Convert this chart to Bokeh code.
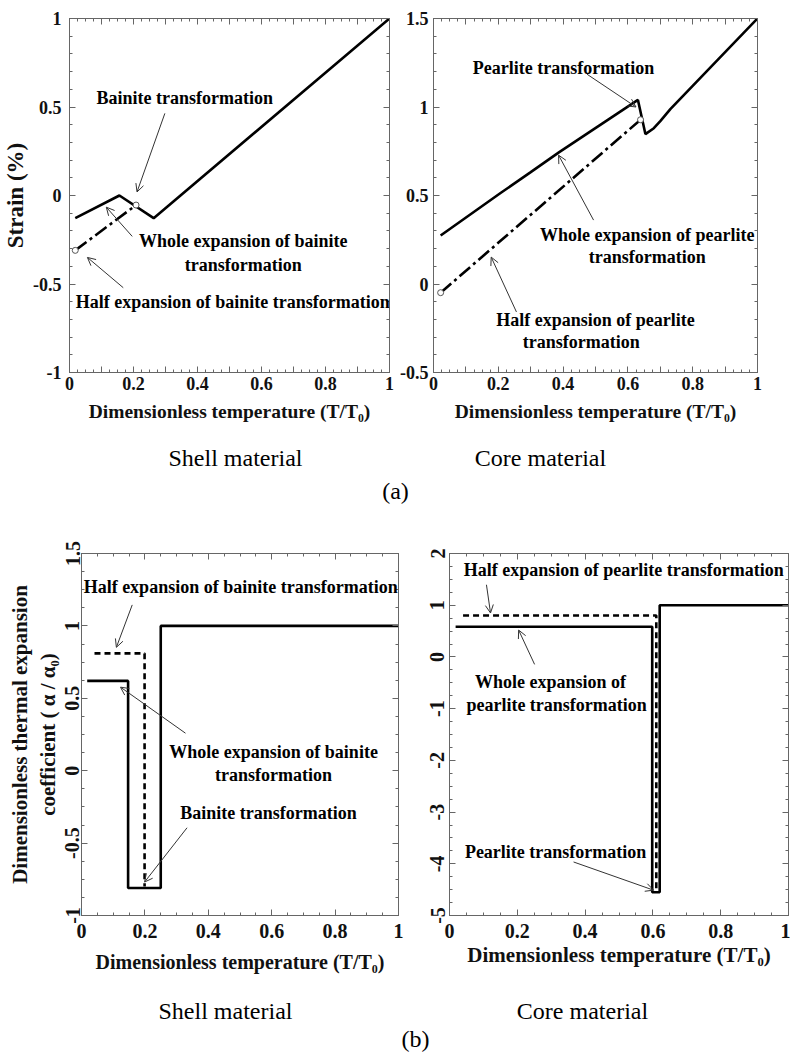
import math
from bokeh.plotting import figure
from bokeh.models import Range1d, LinearAxis, FixedTicker, Label, Arrow, OpenHead
from bokeh.layouts import column, row
from bokeh.embed import file_html
from bokeh.resources import INLINE

# ---------------- data ----------------
# (a) strain vs dimensionless temperature
shell_T_whole = [0.018, 0.156, 0.263, 1.0]
shell_strain_whole = [-0.128, 0.0, -0.128, 1.0]
shell_T_half = [0.018, 0.208]
shell_strain_half = [-0.31, -0.054]

core_T_whole = [0.022, 0.207, 0.299, 0.387, 0.631, 0.654, 0.68, 0.70, 0.731, 1.0]
core_strain_whole = [0.274, 0.514, 0.631, 0.744, 1.04, 0.847, 0.88, 0.92, 0.988, 1.5]
core_T_half = [0.022, 0.639]
core_strain_half = [-0.049, 0.928]

# (b) dimensionless thermal expansion coefficient
shell_alpha_T_whole = [0.018, 0.147, 0.147, 0.25, 0.25, 1.0]
shell_alpha_whole = [0.62, 0.62, -0.81, -0.81, 1.0, 1.0]
shell_alpha_T_half = [0.041, 0.199, 0.199]
shell_alpha_half = [0.81, 0.81, -0.8]

core_alpha_T_whole = [0.018, 0.598, 0.598, 0.62, 0.62, 1.0]
core_alpha_whole = [0.585, 0.585, -4.55, -4.55, 1.0, 1.0]
core_alpha_T_half = [0.04, 0.61, 0.61]
core_alpha_half = [0.8, 0.8, -4.5]

# tick labels
x_ticks_a = [0, 0.1, 0.2, 0.3, 0.4, 0.5, 0.6, 0.7, 0.8, 0.9, 1.0]
x_labels_a = ["0", "", "0.2", "", "0.4", "", "0.6", "", "0.8", "", "1"]
x_ticks_b = [0, 0.2, 0.4, 0.6, 0.8, 1.0]
x_labels_b = ["0", "0.2", "0.4", "0.6", "0.8", "1"]
y_ticks_shell_strain = [-1, -0.5, 0, 0.5, 1]
y_labels_shell_strain = ["-1", "-0.5", "0", "0.5", "1"]
y_ticks_core_strain = [-0.5, 0, 0.5, 1, 1.5]
y_labels_core_strain = ["-0.5", "0", "0.5", "1", "1.5"]
y_ticks_shell_alpha = [-1, -0.5, 0, 0.5, 1, 1.5]
y_labels_shell_alpha = ["-1", "-0.5", "0", "0.5", "1", "1.5"]
y_ticks_core_alpha = [-5, -4, -3, -2, -1, 0, 1, 2]
y_labels_core_alpha = ["-5", "-4", "-3", "-2", "-1", "0", "1", "2"]

X_TITLE = "Dimensionless temperature (T/T\u2080)"

SERIF = "Liberation Serif"
AX = "#666666"
INK = "#111111"
ARROW_INK = "#333333"


def minor_list(lo, hi, step):
    n = int(round((hi - lo) / step))
    return [round(lo + i * step, 4) for i in range(n + 1)]


def make_fig(w, h, bl, br, bt, bb, y0, y1):
    p = figure(width=w, height=h, x_range=Range1d(0, 1), y_range=Range1d(y0, y1),
               x_axis_type=None, y_axis_type=None, toolbar_location=None,
               output_backend="svg", min_border_left=bl, min_border_right=br,
               min_border_top=bt, min_border_bottom=bb)
    p.outline_line_color = AX
    p.background_fill_color = "white"
    p.border_fill_color = "white"
    return p


def style_axis(ax, major_in=6, minor_in=3):
    ax.axis_line_color = AX
    ax.major_tick_line_color = AX
    ax.minor_tick_line_color = AX
    ax.major_tick_in = major_in
    ax.major_tick_out = 0
    ax.minor_tick_in = minor_in
    ax.minor_tick_out = 0


def title_style(ax, size):
    ax.axis_label_text_font = SERIF
    ax.axis_label_text_font_style = "bold"
    ax.axis_label_text_font_size = size
    ax.axis_label_text_color = INK


def add_axes(p, xt, xl, xminor, yt, yl, yminor, tick_size, xtitle_size,
             ytitle=None, ytitle_size="22px", y_vertical=False, y_standoff=5,
             x_standoff=3, xtitle_standoff=2, ytitle_standoff=3):
    xtk = FixedTicker(ticks=xt, minor_ticks=xminor)
    ytk = FixedTicker(ticks=yt, minor_ticks=yminor)
    xb = LinearAxis(ticker=xtk, major_label_overrides=dict(zip(xt, xl)),
                    axis_label=X_TITLE)
    style_axis(xb)
    xb.major_label_text_font = SERIF
    xb.major_label_text_font_style = "bold"
    xb.major_label_text_font_size = tick_size
    xb.major_label_text_color = INK
    xb.major_label_standoff = x_standoff
    title_style(xb, xtitle_size)
    xb.axis_label_standoff = xtitle_standoff
    p.add_layout(xb, "below")

    yb = LinearAxis(ticker=ytk, major_label_overrides=dict(zip(yt, yl)))
    style_axis(yb)
    yb.major_label_text_font = SERIF
    yb.major_label_text_font_style = "bold"
    yb.major_label_text_font_size = tick_size
    yb.major_label_text_color = INK
    yb.major_label_standoff = y_standoff
    if y_vertical:
        yb.major_label_orientation = "vertical"
    if ytitle:
        yb.axis_label = ytitle
        title_style(yb, ytitle_size)
        yb.axis_label_standoff = ytitle_standoff
    p.add_layout(yb, "left")

    # mirrored tick marks on the top and right edges (no labels)
    xt2 = LinearAxis(ticker=xtk, major_label_text_font_size="0px",
                     major_label_text_color=None, major_label_standoff=0)
    style_axis(xt2)
    p.add_layout(xt2, "above")
    yr2 = LinearAxis(ticker=ytk, major_label_text_font_size="0px",
                     major_label_text_color=None, major_label_standoff=0)
    style_axis(yr2)
    p.add_layout(yr2, "right")


def outer_title(p, t, size, standoff):
    """A second, tick-less left axis that only carries an outer title line."""
    ax = LinearAxis(ticker=FixedTicker(ticks=[]), axis_label=t,
                    major_label_text_font_size="0px", major_label_text_color=None,
                    major_label_standoff=0, axis_line_color=None,
                    major_tick_line_color=None, minor_tick_line_color=None,
                    major_tick_in=0, major_tick_out=0, minor_tick_in=0, minor_tick_out=0)
    title_style(ax, size)
    ax.axis_label_standoff = standoff
    p.add_layout(ax, "left")


def text(p, x, y, t, size="18px", bold=True, angle=0.0):
    p.add_layout(Label(x=x, y=y, text=t, text_font=SERIF, text_font_size=size,
                       text_font_style="bold" if bold else "normal",
                       text_align="center", text_baseline="middle",
                       angle=angle, text_color="black"))


def arrow(p, x0, y0, x1, y1):
    p.add_layout(Arrow(end=OpenHead(size=8, line_width=1, line_color=ARROW_INK),
                       x_start=x0, y_start=y0, x_end=x1, y_end=y1,
                       line_width=1, line_color=ARROW_INK))


LW = 2.6

# ---------------- (a) shell strain ----------------
p1 = make_fig(396, 440, 67, 7, 18, 68, -1, 1)
add_axes(p1, x_ticks_a, x_labels_a, minor_list(0, 1, 0.025),
         y_ticks_shell_strain, y_labels_shell_strain, minor_list(-1, 1, 0.1),
         "18px", "19.5px", ytitle="Strain (%)", ytitle_size="23px", y_standoff=8,
         ytitle_standoff=2, x_standoff=4, xtitle_standoff=8)
p1.line(shell_T_whole, shell_strain_whole, line_color="black", line_width=LW)
p1.line(shell_T_half, shell_strain_half, line_color="black", line_width=LW,
        line_dash="14 4 3 4")
p1.scatter(shell_T_half, shell_strain_half, marker="circle", size=6,
           fill_color="white", line_color="#555555", line_width=1)
text(p1, 0.36, 0.55, "Bainite transformation")
arrow(p1, 0.298, 0.464, 0.211, 0.02)
text(p1, 0.543, -0.259, "Whole expansion of bainite")
text(p1, 0.543, -0.39, "transformation")
arrow(p1, 0.196, -0.231, 0.115, -0.066)
text(p1, 0.51, -0.601, "Half expansion of bainite transformation")
arrow(p1, 0.168, -0.521, 0.056, -0.35)

# ---------------- (a) core strain ----------------
p2 = make_fig(394, 440, 37, 33, 18, 68, -0.5, 1.5)
add_axes(p2, x_ticks_a, x_labels_a, minor_list(0, 1, 0.025),
         y_ticks_core_strain, y_labels_core_strain, minor_list(-0.5, 1.5, 0.1),
         "18px", "19.5px", y_standoff=5, x_standoff=4, xtitle_standoff=8)
p2.line(core_T_whole, core_strain_whole, line_color="black", line_width=LW)
p2.line(core_T_half, core_strain_half, line_color="black", line_width=LW,
        line_dash="14 4 3 4")
p2.scatter(core_T_half, core_strain_half, marker="circle", size=6,
           fill_color="white", line_color="#555555", line_width=1)
text(p2, 0.401, 1.223, "Pearlite transformation")
arrow(p2, 0.474, 1.185, 0.625, 1.0)
text(p2, 0.66, 0.276, "Whole expansion of pearlite")
text(p2, 0.66, 0.152, "transformation")
arrow(p2, 0.494, 0.361, 0.386, 0.728)
text(p2, 0.5, -0.203, "Half expansion of pearlite")
text(p2, 0.456, -0.327, "transformation")
arrow(p2, 0.256, -0.158, 0.178, 0.152)

# ---------------- (b) shell alpha ----------------
p3 = make_fig(410, 465, 81, 12, 38, 65, -1, 1.5)
add_axes(p3, x_ticks_b, x_labels_b, minor_list(0, 1, 0.05),
         y_ticks_shell_alpha, y_labels_shell_alpha, minor_list(-1, 1.5, 0.125),
         "20px", "20px", ytitle="coefficient ( \u03b1 / \u03b1\u2080)", ytitle_size="21px",
         y_vertical=True, y_standoff=2, ytitle_standoff=3,
         x_standoff=8, xtitle_standoff=10)
outer_title(p3, "Dimensionless thermal expansion", "21px", 1)
p3.line(shell_alpha_T_whole, shell_alpha_whole, line_color="black", line_width=LW)
p3.line(shell_alpha_T_half, shell_alpha_half, line_color="black", line_width=LW,
        line_dash="6 4")
text(p3, 0.502, 1.268, "Half expansion of bainite transformation")
arrow(p3, 0.16, 1.145, 0.11, 0.852)
text(p3, 0.606, 0.13, "Whole expansion of bainite")
text(p3, 0.606, -0.03, "transformation")
arrow(p3, 0.328, 0.259, 0.123, 0.577)
text(p3, 0.59, -0.29, "Bainite transformation")
arrow(p3, 0.333, -0.394, 0.199, -0.769)

# ---------------- (b) core alpha ----------------
p4 = make_fig(380, 465, 39, 2, 38, 65, -5, 2)
add_axes(p4, x_ticks_b, x_labels_b, minor_list(0, 1, 0.05),
         y_ticks_core_alpha, y_labels_core_alpha, minor_list(-5, 2, 0.25),
         "20px", "21px", y_vertical=True, y_standoff=5,
         x_standoff=8, xtitle_standoff=2)
p4.line(core_alpha_T_whole, core_alpha_whole, line_color="black", line_width=LW)
p4.line(core_alpha_T_half, core_alpha_half, line_color="black", line_width=LW,
        line_dash="6 4")
text(p4, 0.514, 1.675, "Half expansion of pearlite transformation")
arrow(p4, 0.109, 1.396, 0.121, 0.85)
text(p4, 0.298, -0.489, "Whole expansion of")
text(p4, 0.316, -0.924, "pearlite transformation")
arrow(p4, 0.251, -0.144, 0.204, 0.519)
text(p4, 0.313, -3.77, "Pearlite transformation")
arrow(p4, 0.366, -3.965, 0.602, -4.51)


# ---------------- captions under each row ----------------
def strip(h, captions):
    s = figure(width=790, height=h, x_range=Range1d(0, 790), y_range=Range1d(0, h),
               x_axis_type=None, y_axis_type=None, toolbar_location=None,
               output_backend="svg", min_border=0)
    s.outline_line_color = None
    s.background_fill_color = "white"
    s.border_fill_color = "white"
    for (t, x, y) in captions:
        s.add_layout(Label(x=x, y=y, text=t, text_font=SERIF, text_font_size="24px",
                           text_align="center", text_baseline="middle",
                           text_color="black"))
    return s


cap_a = strip(75, [("Shell material", 235, 58), ("Core material", 540, 58), ("(a)", 395, 25)])
cap_b = strip(72, [("Shell material", 225, 42), ("Core material", 582, 42), ("(b)", 415, 14)])

layout = column(row(p1, p2), cap_a, row(p3, p4), cap_b)

with open("out.html", "w") as f:
    f.write(file_html(layout, INLINE))
